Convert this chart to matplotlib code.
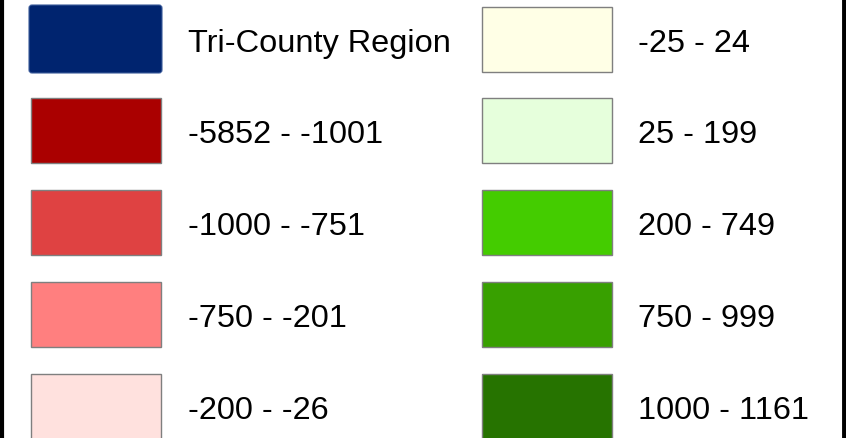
import matplotlib.pyplot as plt
from matplotlib.patches import Rectangle, FancyBboxPatch

plt.rcParams['font.family'] = ['Liberation Sans', 'DejaVu Sans']

# legend entries, two columns
left_labels = ['Tri-County Region', '-5852 - -1001', '-1000 - -751', '-750 - -201', '-200 - -26']
left_colors = ['#00246f', '#aa0000', '#df4242', '#ff7f7f', '#ffe1de']
right_labels = ['-25 - 24', '25 - 199', '200 - 749', '750 - 999', '1000 - 1161']
right_colors = ['#ffffe6', '#e6ffdc', '#44cc00', '#38a000', '#267300']

W, H = 846, 439
fig = plt.figure(figsize=(W / 100, H / 100), dpi=100)
ax = fig.add_axes([0, 0, 1, 1])
ax.set_xlim(0, W)
ax.set_ylim(H, 0)
ax.axis('off')

row_top = [99 + 92 * i for i in range(-1, 4)]
box_w, box_h = 130, 65

for col, (labels, colors, bx, tx) in enumerate([(left_labels, left_colors, 31, 188),
                                                  (right_labels, right_colors, 482, 638)]):
    for i, (lab, c) in enumerate(zip(labels, colors)):
        top = row_top[i]
        if col == 0 and i == 0:
            p = FancyBboxPatch((29, 6), 133, 68, boxstyle='round,pad=0,rounding_size=3',
                               facecolor=c, edgecolor='#3a5a9a', linewidth=0.8)
            ax.add_patch(p)
            base = 52
        else:
            if col == 1 and i == 0:
                top = 8
            ax.add_patch(Rectangle((bx, top), box_w, box_h, facecolor=c,
                                   edgecolor='#7f7f7f', linewidth=1))
            base = 52 if i == 0 else top + 44
        ax.text(tx, base, lab, fontsize=23.4, va='baseline', ha='left', color='black')

# frame lines at the left and right edges
ax.plot([1.5, 1.5], [0, H], color='black', linewidth=3, solid_capstyle='butt')
ax.plot([843.5, 843.5], [0, H], color='black', linewidth=3.5, solid_capstyle='butt')

fig.savefig('out.png', dpi=100)
